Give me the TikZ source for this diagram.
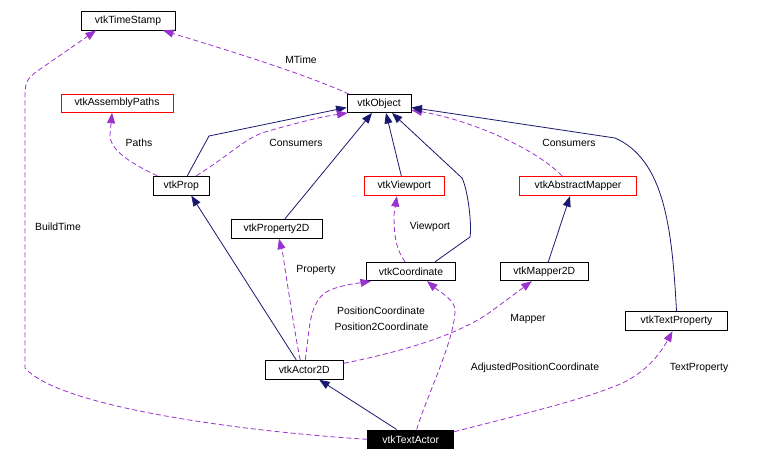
\documentclass[tikz,border=0pt]{standalone}
\usepackage{fontspec}
\setmainfont{Liberation Sans}
\usetikzlibrary{arrows.meta}
\definecolor{navy}{RGB}{25,25,112}
\definecolor{orchid}{RGB}{154,50,205}
\begin{document}
\begin{tikzpicture}[x=1pt,y=-1pt,
  cls/.style={draw=black,line width=0.9pt,inner sep=0pt,font=\fontsize{10.4}{12}\selectfont,fill=white},
  redcls/.style={cls,draw=red},
  inh/.style={draw=navy,line width=0.8pt,-{Triangle[length=10.5pt,width=8pt]},fill=none},
  use/.style={draw=orchid,line width=0.8pt,dash pattern=on 5pt off 3pt,-{Triangle[length=10.5pt,width=8pt]}},
  lbl/.style={font=\fontsize{10.4}{12}\selectfont,inner sep=0pt}]
\useasboundingbox (0,0) rectangle (762,461);
\fill[white] (0,0) rectangle (762,461);
% nodes
\node[cls,minimum width=94pt,minimum height=19pt] (ts) at (128,20.5) {vtkTimeStamp};
\node[cls,minimum width=64pt,minimum height=18pt] (obj) at (379,103.5) {vtkObject};
\node[redcls,minimum width=112pt,minimum height=18pt] (ap) at (117,103.3) {vtkAssemblyPaths};
\node[cls,minimum width=56pt,minimum height=19pt] (prop) at (181.3,185.7) {vtkProp};
\node[redcls,minimum width=80.7pt,minimum height=19.4pt] (vp) at (404.3,186) {vtkViewport};
\node[redcls,minimum width=117.4pt,minimum height=19.4pt] (am) at (578,186) {vtkAbstractMapper};
\node[cls,minimum width=91pt,minimum height=19pt] (p2d) at (276.5,228.7) {vtkProperty2D};
\node[cls,minimum width=88.6pt,minimum height=18.4pt] (coord) at (411,271.5) {vtkCoordinate};
\node[cls,minimum width=88.7pt,minimum height=18.4pt] (m2d) at (544.3,271.5) {vtkMapper2D};
\node[cls,minimum width=102.4pt,minimum height=19.4pt] (tp) at (676.5,321) {vtkTextProperty};
\node[cls,minimum width=78.3pt,minimum height=19pt] (a2d) at (304.2,369.8) {vtkActor2D};
\node[cls,fill=black,text=white,minimum width=86pt,minimum height=18.7pt] (ta) at (410.7,439.3) {vtkTextActor};
% edges
\draw[use] ([xshift=-30pt]obj.north) .. controls (300,72) and (220,48) .. ([xshift=35pt]ts.south);
\draw[use] (ta.west) .. controls (250,432) and (60,408) .. (25,368) -- (25,95) .. controls (25,82) and (28,78) .. (36,72) -- ([xshift=-32pt]ts.south);
\draw[use] ([xshift=-24pt]prop.north) .. controls (130,163) and (110,150) .. (110,135) -- ([xshift=-5pt]ap.south);
\draw[inh] ([xshift=6pt]prop.north) -- (209,136) -- ([yshift=-4pt]obj.west);
\draw[use] ([xshift=15pt]prop.north) .. controls (230,155) and (245,138) .. (265,132) .. controls (300,122) and (320,117) .. ([xshift=1pt]obj.south west);
\draw[inh] ([xshift=8.5pt]p2d.north) -- ([xshift=-7pt]obj.south);
\draw[inh] ([xshift=-3pt]vp.north) -- ([xshift=7pt]obj.south);
\draw[inh] ([xshift=24pt]coord.north) -- (470,237) .. controls (472,225) and (468,190) .. (462,178) -- ([xshift=13pt]obj.south);
\draw[use] ([xshift=-16pt]am.north) .. controls (535,148) and (470,120) .. ([yshift=-6.5pt]obj.east);
\draw[inh] (tp.north) .. controls (672,230) and (665,160) .. (615,138) -- ([yshift=-4pt]obj.east);
\draw[use] ([xshift=-6pt]coord.north) .. controls (397,250) and (394,240) .. (394,215) -- ([xshift=-7.5pt]vp.south);
\draw[inh] ([xshift=4pt]m2d.north) -- ([xshift=-8pt]am.south);
\draw[inh] ([xshift=-8pt]a2d.north) -- ([xshift=10pt]prop.south);
\draw[use] ([xshift=-4pt]a2d.north) .. controls (295,335) and (286,275) .. (283,255) -- ([xshift=2.5pt]p2d.south);
\draw[use] ([xshift=1pt]a2d.north) .. controls (310,330) and (308,300) .. (330,290) .. controls (345,284) and (360,283) .. ([xshift=-40pt]coord.south);
\draw[use] ([yshift=6.5pt]a2d.east) .. controls (400,352) and (460,335) .. (493,310) -- ([xshift=-12.5pt]m2d.south);
\draw[use] ([xshift=6pt]ta.north) .. controls (425,400) and (455,340) .. (455,310) .. controls (455,300) and (440,292) .. ([xshift=16pt]coord.south);
\draw[inh] ([xshift=-14pt]ta.north) -- ([xshift=15pt]a2d.south);
\draw[use] ([yshift=7.6pt]ta.east) .. controls (520,415) and (580,400) .. (610,388) .. controls (640,378) and (658,358) .. ([xshift=-4pt]tp.south);
% labels
\node[lbl] (lmtime) at (301,60) {MTime};
\node[lbl] (lpaths) at (139,143) {Paths};
\node[lbl] (lcons1) at (296,143) {Consumers};
\node[lbl] (lcons2) at (569,143) {Consumers};
\node[lbl] (lviewport) at (430,227) {Viewport};
\node[lbl] (lbuild) at (58,227) {BuildTime};
\node[lbl] (lprop) at (316,270) {Property};
\node[lbl] (lpos1) at (381,311) {PositionCoordinate};
\node[lbl] (lpos2) at (381.5,327) {Position2Coordinate};
\node[lbl] (lmapper) at (528,319) {Mapper};
\node[lbl] (ladj) at (535,368) {AdjustedPositionCoordinate};
\node[lbl] (ltp) at (699,368) {TextProperty};
\end{tikzpicture}
\end{document}
